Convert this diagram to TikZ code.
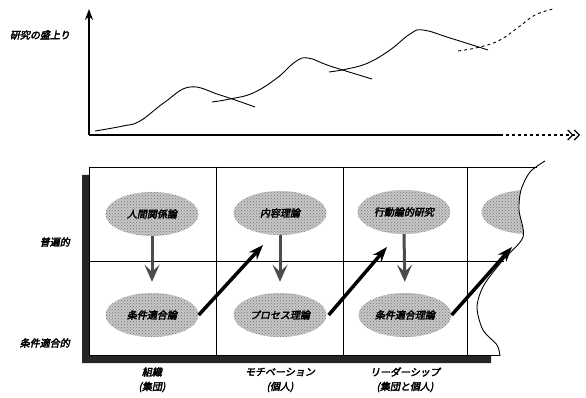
\documentclass[tikz,border=0pt]{standalone}
\usepackage{fontspec}
\usepackage{tikz}
\usetikzlibrary{shapes.geometric,arrows.meta,patterns}
\newfontfamily\jpfont[FakeSlant=0.2,FakeBold=3]{Noto Sans CJK JP}

\begin{document}
\begin{tikzpicture}[x=1pt, y=-1pt,
  every node/.style={font=\jpfont\fontsize{10}{12}\selectfont, inner sep=1pt},
  theory/.style={ellipse, minimum width=93pt, minimum height=44pt, inner sep=0pt,
    fill=black!22, postaction={pattern=crosshatch dots, pattern color=black!55}},
  downarrow/.style={line width=3pt, black!70, shorten >=11pt,
    -{Stealth[length=17pt,width=15pt,inset=7pt]}},
  jumparrow/.style={line width=3.5pt, -{Stealth[length=15pt,width=11pt]}},
  wave/.style={line width=0.9pt}]
  \useasboundingbox (0,0) rectangle (586,398);

  \coordinate (o) at (89,135);
  \coordinate (ytop) at (89,9);
  \coordinate (xmid) at (500,135);
  \coordinate (xend) at (580,135);
  \draw [line width=1.6pt, -{Stealth[length=11pt,width=8pt]}] (o) -- (ytop);
  \draw [line width=1.4pt] (o) -- (xmid);
  \draw [line width=1.2pt, dashed, -{Straight Barb[length=5pt]Straight Barb[length=5pt]}] (xmid) -- (xend);
  \node (boom) at (40,35) {研究の盛上り};

  \draw [wave] plot [smooth, tension=0.7] coordinates {(95,131) (123,126) (140,121) (165,102) (190,87) (220,95) (255,107)};
  \draw [wave] plot [smooth, tension=0.7] coordinates {(212,102) (230,99) (253,93) (277,78) (295,62) (308,58) (330,66) (372,79)};
  \draw [wave] plot [smooth, tension=0.7] coordinates {(329,72) (347,69) (368,63) (390,50) (410,34) (423,30) (450,38) (488,50)};
  \draw [wave, dashed] plot [smooth, tension=0.7] coordinates {(458,51) (480,47) (500,40) (520,26) (535,15) (553,9)};

  \fill [black!85] (82,175) -- (89,175) -- (89,355) -- (491,355) -- (491,363) -- (82,363) -- cycle;
  \draw [line width=0.8pt] (89,355) -- (89,167) -- (537,167);
  \draw [line width=0.8pt] (89,261) -- (504,261);
  \draw [line width=0.8pt] (89,355) -- (500,355);
  \draw [line width=0.8pt] (216,167) -- (216,355);
  \draw [line width=0.8pt] (343,167) -- (343,355);
  \draw [line width=0.8pt] (467,167) -- (467,355);

  \node [theory] (hr) at (152,214) {人間関係論};
  \node [theory] (content) at (280,213) {内容理論};
  \node [theory] (behav) at (404,212) {行動論的研究};
  \begin{scope}
    \clip (467,160) -- (545,160) -- plot [smooth] coordinates {(545,161) (530,172) (521,190) (519,210) (523,237) (503,260) (484,285)} -- (467,285) -- cycle;
    \node [theory] (next) at (528,212) {};
  \end{scope}
  \node [theory] (cf) at (152,315) {条件適合論};
  \node [theory] (process) at (280,315) {プロセス理論};
  \node [theory] (cft) at (405,315) {条件適合理論};

  \draw [wave] plot [smooth] coordinates {(545,161) (530,172) (521,190) (519,210) (523,237) (503,260) (484,285) (477,307) (483,330) (497,345) (500,356)};

  \draw [downarrow] (hr.south) -- (cf.north);
  \draw [downarrow] (content.south) -- (process.north);
  \draw [downarrow] (behav.south) -- (cft.north);

  \coordinate (tip1) at (263,245);
  \coordinate (tip2) at (387,247);
  \coordinate (tip3) at (512,247);
  \draw [jumparrow] (cf.east) -- (tip1);
  \draw [jumparrow] ([xshift=2pt]process.east) -- (tip2);
  \draw [jumparrow] (cft.east) -- (tip3);

  \node [anchor=east] (univ) at (71,242) {普遍的};
  \node [anchor=east] (cond) at (71,343) {条件適合的};

  \node (org) at (152,372) {組織};
  \node (orgsub) at (152,387) {(集団)};
  \node (moti) at (280,372) {モチベーション};
  \node (motisub) at (280,387) {(個人)};
  \node (lead) at (405,372) {リーダーシップ};
  \node (leadsub) at (405,387) {(集団と個人)};
\end{tikzpicture}
\end{document}
